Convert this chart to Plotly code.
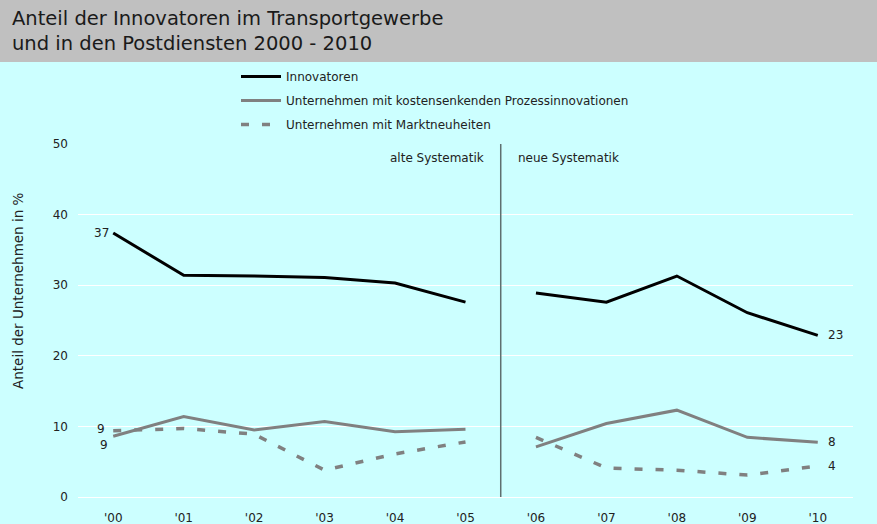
import plotly.graph_objects as go

years = ["'00", "'01", "'02", "'03", "'04", "'05", "'06", "'07", "'08", "'09", "'10"]
innovatoren = [37.4, 31.4, 31.3, 31.1, 30.3, 27.6, 28.9, 27.6, 31.3, 26.1, 22.9]
prozess = [8.6, 11.4, 9.5, 10.7, 9.25, 9.6, 7.1, 10.4, 12.3, 8.45, 7.75]
markt = [9.4, 9.7, 8.9, 3.8, 6.1, 7.8, 8.45, 4.1, 3.8, 3.1, 4.4]
names = ["Innovatoren",
         "Unternehmen mit kostensenkenden Prozessinnovationen",
         "Unternehmen mit Marktneuheiten"]
break_after = 5  # index of last year of "alte Systematik"

FONT = "DejaVu Sans"


def with_gap(vals):
    xs = list(range(break_after + 1)) + [break_after + 0.5] + list(range(break_after + 1, len(vals)))
    ys = vals[:break_after + 1] + [None] + vals[break_after + 1:]
    return xs, ys


fig = go.Figure()
styles = [
    dict(color="#000000", width=3),
    dict(color="#808080", width=3),
    dict(color="#808080", width=3.5, dash="8px,13px"),
]
for i, (nm, vals, st) in enumerate(zip(names, [innovatoren, prozess, markt], styles)):
    xs, ys = with_gap(vals)
    fig.add_trace(go.Scatter(x=xs, y=ys, mode="lines", name=nm, line=st,
                             connectgaps=False, legendgroup=f"g{i}", hoverinfo="skip"))

L, R, T, B = 78, 24, 144, 27
W, H = 877, 524
pw, ph = W - L - R, H - T - B


def px_x(px):
    return (px - L) / pw


def px_y(py):
    return (H - B - py) / ph


fig.update_layout(
    width=W, height=H, autosize=False,
    margin=dict(l=L, r=R, t=T, b=B, autoexpand=False),
    paper_bgcolor="#ccffff",
    plot_bgcolor="#ccffff",
    font=dict(family=FONT, size=12, color="#222222"),
    showlegend=True,
    legend=dict(x=px_x(236), y=px_y(62), xanchor="left", yanchor="top",
                bgcolor="rgba(0,0,0,0)", font=dict(size=12, color="#222222"),
                traceorder="grouped", tracegroupgap=5, itemwidth=40),
    xaxis=dict(range=[-0.5, 10.5], tickmode="array", tickvals=list(range(len(years))),
               ticktext=years, showgrid=False, zeroline=False, showline=False,
               ticks="", ticklabelstandoff=12, fixedrange=True, automargin=False,
               tickfont=dict(size=12, color="#222222")),
    yaxis=dict(range=[0, 50], tickvals=[0, 10, 20, 30, 40, 50], showgrid=True,
               gridcolor="#ffffff", gridwidth=1, zeroline=True, zerolinecolor="#ffffff",
               zerolinewidth=1, showline=False, ticks="", ticklabelstandoff=9,
               automargin=False, fixedrange=True,
               tickfont=dict(size=12, color="#222222")),
)

# header band
fig.add_shape(type="rect", xref="paper", yref="paper",
              x0=px_x(-5), x1=px_x(W + 5), y0=px_y(62), y1=px_y(-5),
              fillcolor="#c0c0c0", line_width=0, layer="above")
fig.add_annotation(xref="paper", yref="paper", x=px_x(10), y=px_y(31),
                   xanchor="left", yanchor="middle", align="left", showarrow=False,
                   text="Anteil der Innovatoren im Transportgewerbe<br>und in den Postdiensten 2000 - 2010",
                   font=dict(size=19.5, color="#1a1a1a", family=FONT))

# separator
fig.add_shape(type="line", xref="x", yref="y", x0=break_after + 0.5, x1=break_after + 0.5,
              y0=0, y1=50, line=dict(color="#5f6f6f", width=1.5))
fig.add_annotation(x=break_after + 0.5, y=48, xref="x", yref="y", text="alte Systematik",
                   xanchor="right", xshift=-15, showarrow=False, font=dict(size=12))
fig.add_annotation(x=break_after + 0.5, y=48, xref="x", yref="y", text="neue Systematik",
                   xanchor="left", xshift=15, showarrow=False, font=dict(size=12))

# y axis title
fig.add_annotation(xref="paper", yref="paper", x=px_x(18), y=px_y(291), textangle=-90,
                   text="Anteil der Unternehmen in %", showarrow=False,
                   xanchor="center", yanchor="middle", font=dict(size=13.5))

# value labels
last = len(years) - 1
labels = [
    (0, innovatoren[0], "right", -2, 0),
    (0, markt[0], "right", -6, 2),
    (0, prozess[0], "right", -3, -9),
    (last, innovatoren[last], "left", 8, 0),
    (last, prozess[last], "left", 8, 0),
    (last, markt[last], "left", 8, 0),
]
for xi, yv, anc, xs, ys in labels:
    fig.add_annotation(x=xi, y=yv, xref="x", yref="y", text=f"{round(yv):d}",
                       xanchor=anc, xshift=xs, yshift=ys, showarrow=False,
                       font=dict(size=12))

post = "document.body.style.margin='0';document.body.style.overflow='hidden';"
fig.write_html("out.html", post_script=post, config={"displayModeBar": False})
